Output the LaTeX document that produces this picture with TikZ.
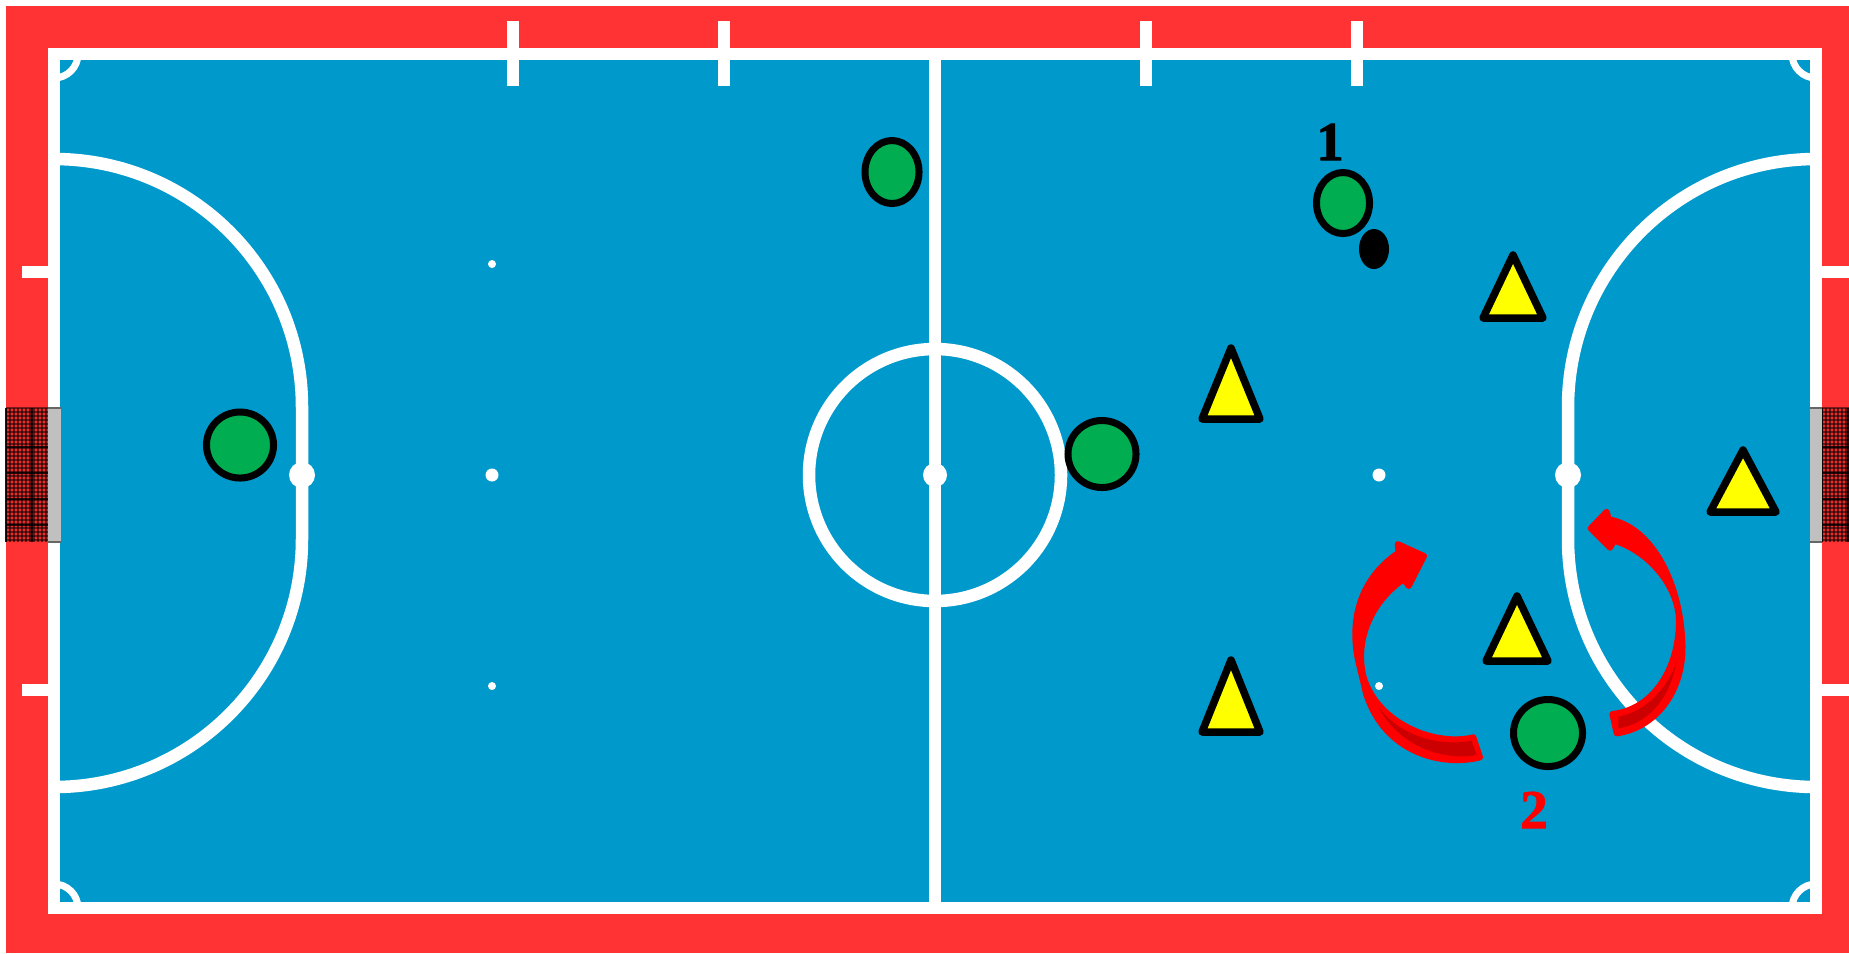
\documentclass[tikz,border=0pt]{standalone}
\usepackage{fontspec}
\setmainfont{Liberation Serif}
\newfontfamily\numfont[FakeBold=1.6]{Liberation Serif Bold}
\usetikzlibrary{shapes.geometric}
\definecolor{fsRed}{HTML}{FF3333}
\definecolor{fsBlue}{HTML}{0099CC}
\definecolor{fsGreen}{HTML}{00AD50}
\definecolor{fsYellow}{HTML}{FFFF00}
\definecolor{fsArrow}{HTML}{FF0000}
\definecolor{fsDark}{HTML}{CC0000}
\definecolor{fsPost}{HTML}{C0C0C0}
\tikzset{
  courtline/.style = {white, line width=0.125cm},
  tickline/.style  = {white, line width=0.12cm},
  cornerline/.style= {white, line width=0.07cm},
  netline/.style   = {black, opacity=0.5, line width=0.012cm},
  netheavy/.style  = {black, opacity=0.8, line width=0.017cm},
  postedge/.style  = {black!60, line width=0.025cm},
  player/.style    = {ellipse, draw=black, fill=fsGreen, line width=0.07cm, inner sep=0pt},
  ballshape/.style = {ellipse, fill=black, inner sep=0pt, minimum width=0.3cm, minimum height=0.4cm},
  cone/.style      = {draw=black, fill=fsYellow, line width=0.075cm, line join=round},
  turn/.style      = {draw=fsArrow, fill=fsArrow, line width=0.06cm, line join=round},
  turndark/.style  = {fill=fsDark},
  numlbl/.style    = {font=\numfont\fontsize{15.6}{16}\selectfont, inner sep=0pt},
}
\newcommand{\goalnet}[2]{% net left edge, net right edge
  \fill[fsRed!90!black] (#1,408) rectangle (#2,542);
  \pgfmathtruncatemacro{\netnext}{#1+4}
  \foreach \nx in {#1,\netnext,...,#2} \draw[netline] (\nx,408) -- (\nx,542);
  \foreach \ny in {408,412,...,542} \draw[netline] (#1,\ny) -- (#2,\ny);
  \pgfmathtruncatemacro{\netnext}{#1+26}
  \foreach \nx in {#1,\netnext,...,#2} \draw[netheavy] (\nx,408) -- (\nx,542);
  \foreach \ny in {447,473,499,525} \draw[netheavy] (#1,\ny) -- (#2,\ny);
}
\newcommand{\goalpost}[2]{% post left edge, post right edge
  \fill[fsPost] (#1,408) rectangle (#2,542);
  \draw[postedge] (#1,408) -- (#2,408);
  \draw[postedge] (#1,542) -- (#2,542);
}
\newcommand{\defender}[4]{% apex x, apex y, half width, base y
  \draw[cone] (#1,#2) -- (#1-#3,#4) -- (#1+#3,#4) -- cycle;
}
\begin{document}
\begin{tikzpicture}[x=0.01cm, y=-0.01cm]
\useasboundingbox (0,0) rectangle (1849,953);
\fill[fsRed] (6,6) rectangle (1849,953);
\fill[fsBlue] (54,54) rectangle (1816,908);
% goals
\goalnet{6}{48}
\goalnet{1822}{1849}
% court
\draw[courtline] (54,54) rectangle (1816,908);
\draw[courtline] (935,54) -- (935,908);
\draw[courtline] (935,475) circle[radius=126];
\draw[courtline] (54,159) arc[start angle=270, end angle=360, radius=248]
  -- (302,539) arc[start angle=0, end angle=90, radius=248];
\draw[courtline] (1816,159) arc[start angle=270, end angle=180, radius=248]
  -- (1568,539) arc[start angle=180, end angle=90, radius=248];
\foreach \tx in {513,724,1146,1357} \draw[tickline] (\tx,21) -- (\tx,86);
\foreach \ty in {272,690} {
  \draw[tickline] (22,\ty) -- (54,\ty);
  \draw[tickline] (1816,\ty) -- (1849,\ty);
}
\draw[cornerline] (78,54) arc[start angle=0, end angle=90, radius=24];
\draw[cornerline] (1792,54) arc[start angle=180, end angle=90, radius=24];
\draw[cornerline] (78,908) arc[start angle=0, end angle=-90, radius=24];
\draw[cornerline] (1792,908) arc[start angle=180, end angle=270, radius=24];
% goal posts
\goalpost{48}{61}
\goalpost{1810}{1822}
% spots
\foreach \sx/\sy/\sr in {935/475/12, 302/475/13, 1568/475/13, 492/475/6.5, 1379/475/6.5,
                         492/264/4, 492/686/4, 1379/686/4}
  \fill[white] (\sx,\sy) circle[radius=\sr];
% turning arrows
\begin{scope}[shift={(1300,480)}, scale=1/3]
  \draw[turn] (520,772) -- (540,832) .. controls (430,860) and (255,822) .. (198,640)
    -- (174,540) .. controls (145,400) and (195,285) .. (296,218) -- (293,192) -- (372,228)
    -- (326,318) -- (312,297) .. controls (225,355) and (160,470) .. (191,592)
    .. controls (232,728) and (400,800) .. (520,772) -- cycle;
  \fill[turndark] (235,680) .. controls (300,770) and (420,800) .. (515,782) -- (530,825)
    .. controls (420,845) and (290,790) .. (235,680) -- cycle;
  \draw[turn] (937,702) -- (950,760) .. controls (1075,742) and (1160,620) .. (1146,470)
    .. controls (1136,305) and (1055,140) .. (926,118) -- (920,95) -- (872,145) -- (930,203)
    -- (942,182) .. controls (1045,212) and (1139,320) .. (1137,430)
    .. controls (1134,565) and (1062,688) .. (937,702) -- cycle;
  \fill[turndark] (955,710) .. controls (1040,695) and (1105,620) .. (1130,545)
    .. controls (1110,650) and (1050,730) .. (955,745) -- cycle;
\end{scope}
% players
\node[player, minimum width=0.67cm, minimum height=0.66cm] (keeper) at (240,445) {};
\node[player, minimum width=0.54cm, minimum height=0.63cm] (wing) at (892,172) {};
\node[player, minimum width=0.68cm, minimum height=0.67cm] (pivot) at (1102,454) {};
\node[player, minimum width=0.53cm, minimum height=0.61cm] (passer) at (1343,203) {};
\node[player, minimum width=0.69cm, minimum height=0.67cm] (runner) at (1548,733) {};
\node[ballshape] (ball) at (1374,249) {};
\defender{1513}{255}{30}{318}
\defender{1231}{348}{29}{419}
\defender{1743}{450}{33}{512}
\defender{1231}{660}{29}{732}
\defender{1517}{596}{31}{661}
% numbers
\node[numlbl, black] (one) at (1330,142) {1};
\node[numlbl, fsArrow] (two) at (1534,810) {2};
\end{tikzpicture}
\end{document}
